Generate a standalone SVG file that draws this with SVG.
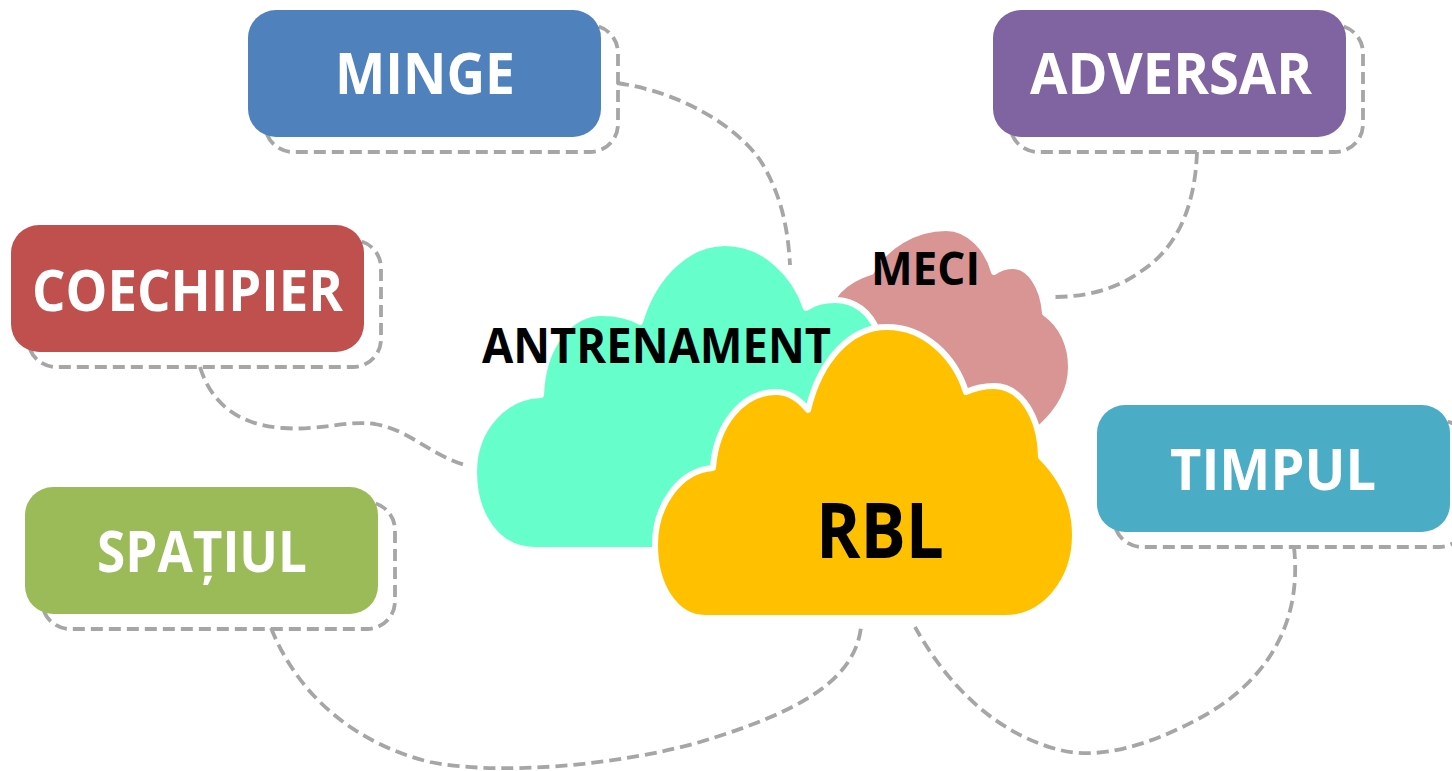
<svg xmlns="http://www.w3.org/2000/svg" width="1452" height="771" viewBox="0 0 1452 771">
<style>
.dash{fill:none;stroke:#A6A6A6;stroke-width:3.8;stroke-dasharray:12 6}
.box{stroke:none}
.lbl{font-family:"Open Sans","Liberation Sans",Arial,sans-serif;font-weight:bold;fill:#FFFFFF;font-size:57px}
.cl{font-family:"Open Sans","Liberation Sans",Arial,sans-serif;font-weight:bold;fill:#000000}
.cloud{stroke:#FFFFFF;stroke-width:6;stroke-linejoin:round}
</style>
<rect width="1452" height="771" fill="#FFFFFF"/>
<g id="connectors">
<path class="dash" d="M 617,83 C 680,92 735,125 760,160 C 782,195 788,230 790,265"/>
<path class="dash" d="M 1197,152 C 1195,210 1175,250 1140,272 C 1115,290 1085,297 1053,297"/>
<path class="dash" d="M 200,367 C 210,400 235,425 283,428 C 320,431 345,420 375,424 C 410,430 430,455 465,465"/>
<path class="dash" d="M 271,628 C 300,700 360,745 430,762 C 500,776 620,765 700,742 C 800,712 855,680 861,627"/>
<path class="dash" d="M 1294,547 C 1302,620 1270,680 1200,718 C 1150,745 1100,760 1060,750 C 1000,735 950,690 915,627"/>
</g>
<g id="node-minge">
<rect class="dash" x="265" y="25" width="353" height="127" rx="28"/>
<rect class="box" x="248" y="10" width="353" height="127" rx="28" fill="#4F81BD"/>
<text class="lbl" x="335" y="94" textLength="180" lengthAdjust="spacingAndGlyphs">MINGE</text>
</g>
<g id="node-adversar">
<rect class="dash" x="1010" y="25" width="353" height="127" rx="28"/>
<rect class="box" x="993" y="10" width="353" height="127" rx="28" fill="#8064A2"/>
<text class="lbl" x="1030" y="94" textLength="282" lengthAdjust="spacingAndGlyphs">ADVERSAR</text>
</g>
<g id="node-coechipier">
<rect class="dash" x="28" y="240" width="353" height="127" rx="28"/>
<rect class="box" x="11" y="225" width="353" height="127" rx="28" fill="#C0504D"/>
<text class="lbl" x="32" y="311" textLength="311" lengthAdjust="spacingAndGlyphs">COECHIPIER</text>
</g>
<g id="node-spatiul">
<rect class="dash" x="42" y="502" width="353" height="127" rx="28"/>
<rect class="box" x="25" y="487" width="353" height="127" rx="28" fill="#9BBB59"/>
<text class="lbl" x="97" y="572" textLength="210" lengthAdjust="spacingAndGlyphs">SPAȚIUL</text>
</g>
<g id="node-timpul">
<rect class="dash" x="1114" y="420" width="353" height="127" rx="28"/>
<rect class="box" x="1097" y="405" width="353" height="127" rx="28" fill="#4BACC6"/>
<text class="lbl" x="1170" y="490" textLength="206" lengthAdjust="spacingAndGlyphs">TIMPUL</text>
</g>
<g id="node-meci">
<path class="cloud" fill="#D99594" d="M 825,322 C 828,296 845,280 871,272 C 885,246 915,228 946,228 C 970,228 988,250 994,272 C 1000,268 1007,266 1013,266 C 1030,266 1043,287 1045,313 C 1062,325 1071,345 1071,367 C 1071,390 1060,410 1040,428 L 960,425 L 880,400 L 830,340 Z"/>
<text class="cl" x="871" y="285" font-size="46" textLength="109" lengthAdjust="spacingAndGlyphs">MECI</text>
</g>
<g id="node-antrenament">
<path class="cloud" fill="#66FFCC" d="M 535,550 C 495,550 474,512 474,472 C 474,428 505,396 541,395 C 543,345 570,313 602,313 C 618,313 630,316 640,322 C 655,272 690,243 725,243 C 765,243 795,275 806,308 C 815,302 825,300 835,300 C 855,300 870,312 878,332 L 870,550 Z"/>
<text class="cl" x="482" y="363" font-size="49" textLength="349" lengthAdjust="spacingAndGlyphs">ANTRENAMENT</text>
</g>
<g id="node-rbl">
<path class="cloud" fill="#FFC000" d="M 705,618 C 675,618 655,585 655,545 C 655,505 680,470 713,468 C 716,425 742,392 776,392 C 790,392 800,400 808,410 C 820,360 850,327 887,327 C 925,327 955,357 966,392 C 975,388 985,386 994,386 C 1020,386 1040,415 1041,457 C 1062,478 1075,505 1075,535 C 1075,580 1045,618 1005,618 Z"/>
<text class="cl" x="816" y="558" font-size="77" textLength="128" lengthAdjust="spacingAndGlyphs">RBL</text>
</g>
</svg>
